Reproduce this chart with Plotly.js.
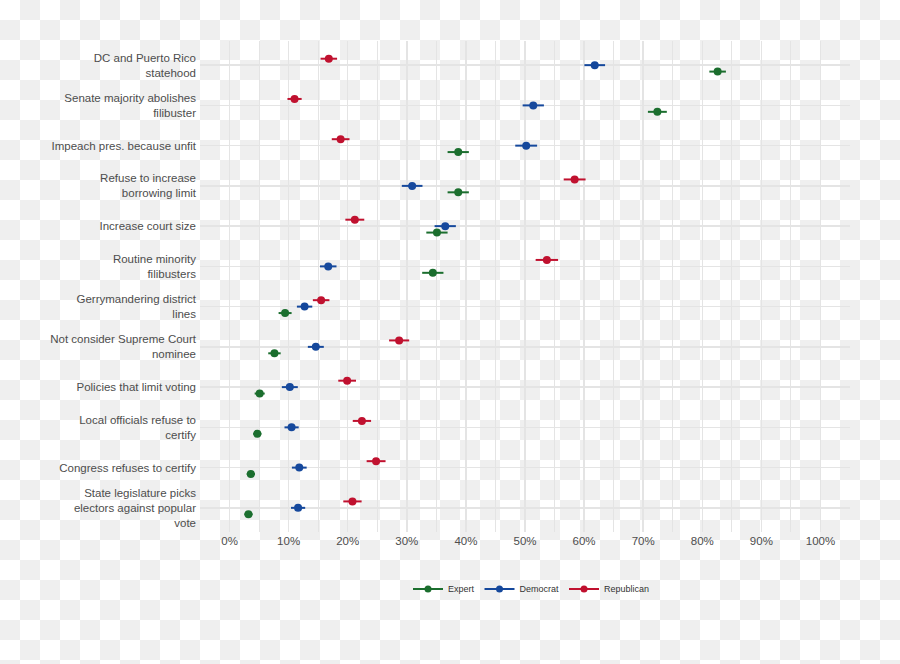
<!DOCTYPE html>
<html>
<head>
<meta charset="utf-8">
<script src="https://cdn.plot.ly/plotly-3.0.1.min.js"></script>
<style>
  html, body { margin: 0; padding: 0; }
  body {
    width: 900px; height: 664px;
    background-color: #ffffff;
    background-image: repeating-conic-gradient(#efefef 0% 25%, #ffffff 0% 50%);
    background-size: 40px 40px;
    background-position: 0 0;
  }
  #chart { width: 900px; height: 664px; }
</style>
</head>
<body>
<div id="chart"></div>
<script>
// Categories, top to bottom as shown
const categories = [
  "DC and Puerto Rico<br>statehood",
  "Senate majority abolishes<br>filibuster",
  "Impeach pres. because unfit",
  "Refuse to increase<br>borrowing limit",
  "Increase court size",
  "Routine minority<br>filibusters",
  "Gerrymandering district<br>lines",
  "Not consider Supreme Court<br>nominee",
  "Policies that limit voting",
  "Local officials refuse to<br>certify",
  "Congress refuses to certify",
  "State legislature picks<br>electors against popular<br>vote"
];

// Percent values
const expert     = [82.6, 72.4, 38.7, 38.7, 35.1, 34.4, 9.4, 7.6, 5.1, 4.7, 3.6, 3.2];
const expertErr  = [1.4, 1.6, 1.8, 1.8, 1.8, 1.8, 1.1, 1.05, 0.85, 0.7, 0.7, 0.7];
const democrat   = [61.8, 51.4, 50.2, 30.9, 36.5, 16.7, 12.7, 14.6, 10.2, 10.5, 11.8, 11.6];
const democratErr= [1.75, 1.8, 1.85, 1.75, 1.8, 1.4, 1.3, 1.35, 1.35, 1.2, 1.25, 1.2];
const republican = [16.8, 11.0, 18.8, 58.4, 21.2, 53.7, 15.5, 28.7, 19.9, 22.4, 24.8, 20.8];
const republicanErr = [1.4, 1.2, 1.5, 1.85, 1.6, 1.9, 1.4, 1.7, 1.5, 1.55, 1.6, 1.55];

const xTickVals = [0, 10, 20, 30, 40, 50, 60, 70, 80, 90, 100];
const xTickText = ["0%", "10%", "20%", "30%", "40%", "50%", "60%", "70%", "80%", "90%", "100%"];

const seriesNames = ["Expert", "Democrat", "Republican"];
const seriesColors = ["#1b6e2e", "#15489c", "#c0112f"];

function makeTrace(name, color, vals, errs) {
  return {
    type: "scatter",
    mode: "markers",
    orientation: "h",
    name: name,
    x: vals,
    y: categories,
    showlegend: false,
    marker: { color: color, size: 8 },
    error_x: { type: "data", array: errs, visible: true, color: color, thickness: 2, width: 0 },
    hoverinfo: "x+name"
  };
}

// legend-only entries (line + dot key), on a hidden overlay axis pair
function makeKey(name, color) {
  return {
    type: "scatter",
    mode: "lines+markers",
    name: name,
    x: [null],
    y: [null],
    xaxis: "x2",
    yaxis: "y2",
    line: { color: color, width: 2 },
    marker: { color: color, size: 7 },
    showlegend: true,
    hoverinfo: "skip"
  };
}

const traces = [
  makeTrace(seriesNames[0], seriesColors[0], expert, expertErr),
  makeTrace(seriesNames[1], seriesColors[1], democrat, democratErr),
  makeTrace(seriesNames[2], seriesColors[2], republican, republicanErr),
  makeKey(seriesNames[0], seriesColors[0]),
  makeKey(seriesNames[1], seriesColors[1]),
  makeKey(seriesNames[2], seriesColors[2])
];

const gridColor = "#e4e4e4";

const layout = {
  width: 900,
  height: 664,
  margin: { l: 200, r: 50, t: 41, b: 132 },
  paper_bgcolor: "rgba(0,0,0,0)",
  plot_bgcolor: "rgba(0,0,0,0)",
  scattermode: "group",
  scattergap: 0.52,
  font: { family: "Liberation Sans, Arial, sans-serif", color: "#4d4d4d" },
  showlegend: true,
  xaxis: {
    range: [-5, 105],
    tickmode: "array",
    tickvals: xTickVals,
    ticktext: xTickText,
    showgrid: true,
    gridcolor: gridColor,
    gridwidth: 1.5,
    zeroline: false,
    showline: false,
    ticks: "",
    tickfont: { size: 11.5, color: "#4d4d4d" },
    minor: { dtick: 5, tick0: 0, showgrid: true, gridcolor: gridColor, gridwidth: 1 }
  },
  yaxis: {
    type: "category",
    categoryorder: "array",
    categoryarray: categories.slice().reverse(),
    range: [-0.6, 11.6],
    showgrid: true,
    gridcolor: gridColor,
    gridwidth: 1.5,
    zeroline: false,
    showline: false,
    ticks: "",
    ticklabelstandoff: 3,
    tickfont: { size: 11.5, color: "#4d4d4d" }
  },
  xaxis2: { overlaying: "x", visible: false, range: [0, 1] },
  yaxis2: { overlaying: "y", visible: false, range: [0, 1] },
  legend: {
    orientation: "h",
    x: 0.51,
    xanchor: "center",
    y: -0.116,
    yanchor: "middle",
    itemwidth: 30,
    font: { size: 9, color: "#333333" },
    bgcolor: "rgba(0,0,0,0)"
  }
};

Plotly.newPlot("chart", traces, layout, { displayModeBar: false, staticPlot: true });
</script>
</body>
</html>
